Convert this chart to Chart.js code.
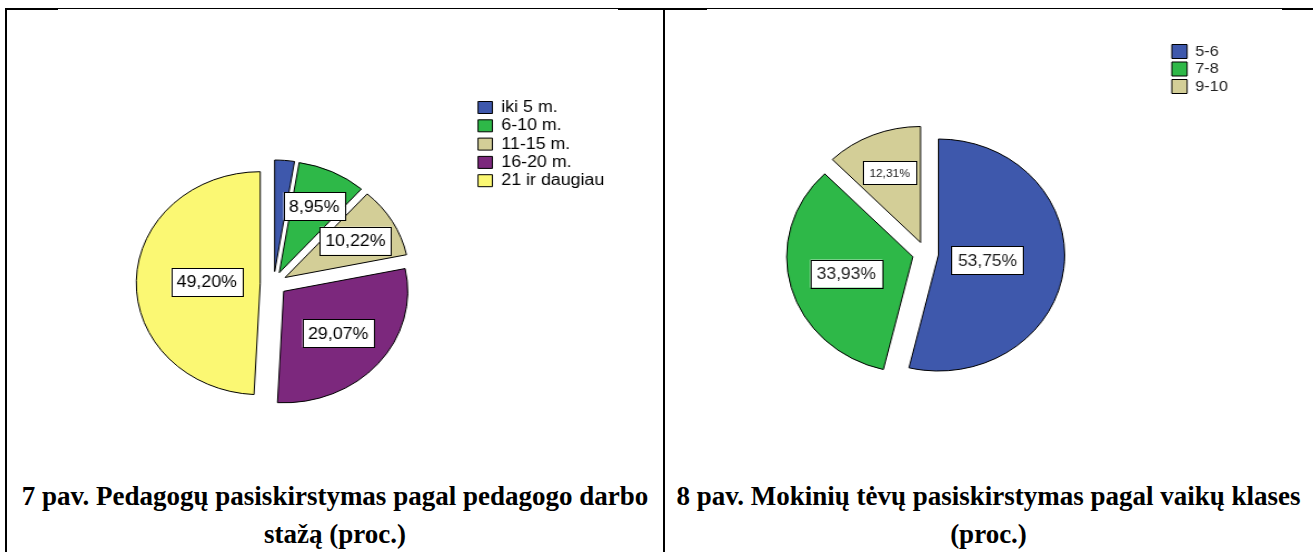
<!DOCTYPE html>
<html>
<head>
<meta charset="utf-8">
<script src="https://cdn.jsdelivr.net/npm/chart.js@4.4.1/dist/chart.umd.min.js"></script>
<style>
    html, body { margin: 0; padding: 0; background: #fff; }
    body { width: 1313px; height: 552px; position: relative; overflow: hidden; }
    .line { position: absolute; background: #000; }
    .chart-box { position: absolute; transform-origin: 0 0; }
    .caption {
        position: absolute;
        font-family: "Liberation Serif", "Times New Roman", serif;
        font-weight: bold;
        font-size: 27px;
        line-height: 38px;
        text-align: center;
        color: #000;
        white-space: nowrap;
    }
</style>
</head>
<body>

<!-- table lines -->
<div class="line" style="left:5px; top:8px; width:1308px; height:1px;"></div>
<div class="line" style="left:5px; top:8px; width:53px; height:2px;"></div>
<div class="line" style="left:618px; top:8px; width:89px; height:2px;"></div>
<div class="line" style="left:1282px; top:8px; width:31px; height:2px;"></div>
<div class="line" style="left:5px; top:8px; width:2px; height:544px;"></div>
<div class="line" style="left:663px; top:8px; width:2px; height:544px;"></div>

<div class="chart-box" id="staz-box"><canvas id="staz-chart"></canvas></div>
<div class="chart-box" id="klases-box"><canvas id="klases-chart"></canvas></div>

<div class="caption" style="left:7px; top:477px; width:656px;">7 pav. Pedagogų pasiskirstymas pagal pedagogo darbo<br>stažą (proc.)</div>
<div class="caption" style="left:665px; top:477px; width:647px;">8 pav. Mokinių tėvų pasiskirstymas pagal vaikų klases<br>(proc.)</div>

<script>
// =========================================================
// DATA
// =========================================================

    const stazLabels = ["iki 5 m.", "6-10 m.", "11-15 m.", "16-20 m.", "21 ir daugiau"];
    const stazValues = [2.56, 8.95, 10.22, 29.07, 49.20];
    const stazColors = ["#3E58AC", "#2EB848", "#D3CE97", "#7C287D", "#FBF873"];

    const klasesLabels = ["5-6", "7-8", "9-10"];
    const klasesValues = [53.75, 33.93, 12.31];
    const klasesColors = ["#3E58AC", "#2EB848", "#D3CE97"];

// =========================================================
// LAYOUT (page pixels)
// =========================================================

    const FONT = 'Arial, "Liberation Sans", sans-serif';

    const stazGeometry = {
        left: 7, top: 10, width: 655, height: 450, stretch: 1.112,
        cx: 273.6, cy: 283.5, radius: 111.5,
        legendX: 478, legendY: 99.5
    };

    const klasesGeometry = {
        left: 666, top: 10, width: 647, height: 450, stretch: 1.086,
        cx: 925, cy: 253.6, radius: 116,
        legendX: 1171, legendY: 44
    };

// =========================================================
// PLUGINS
// =========================================================

    // --- Pulls every slice out along its middle angle --- //

    const explodePlugin = {
        id: "explode",
        beforeDatasetDraw(chart, args, options) {
            const ctx = chart.ctx;
            args.meta.data.forEach(function (arc) {
                const mid = (arc.startAngle + arc.endAngle) / 2;
                ctx.save();
                ctx.translate(Math.cos(mid) * options.distance, Math.sin(mid) * options.distance);
                arc.draw(ctx, chart.chartArea);
                ctx.restore();
            });
            return false;
        }
    };

    // --- Moves the legend to a fixed spot --- //

    const legendPlacePlugin = {
        id: "legendPlace",
        afterLayout(chart, args, options) {
            const legend = chart.legend;
            const padding = chart.options.plugins.legend.labels.padding;
            legend.left = options.x - padding;
            legend.top = options.y - padding;
            legend.right = legend.left + legend.width;
            legend.bottom = legend.top + 300;
        }
    };

    // --- White value boxes at the slice centroid --- //

    const valueBoxPlugin = {
        id: "valueBoxes",
        afterDatasetsDraw(chart, args, options) {
            const ctx = chart.ctx;
            const values = chart.data.datasets[0].data;
            const distance = chart.options.plugins.explode.distance;

            chart.getDatasetMeta(0).data.forEach(function (arc, index) {
                if (values[index] < options.minValue) {
                    return;
                }
                const half = (arc.endAngle - arc.startAngle) / 2;
                const mid = arc.startAngle + half;
                const d = distance + 2 * arc.outerRadius * Math.sin(half) / (3 * half);
                const x = arc.x + Math.cos(mid) * d;
                const y = arc.y + Math.sin(mid) * d;

                const size = options.small.includes(index) ? options.smallSize : options.size;
                const text = values[index].toFixed(2).replace(".", ",") + "%";

                ctx.save();
                ctx.font = size + "px " + FONT;
                const w = ctx.measureText(text).width + 2 * options.padX;
                const h = size + 2 * options.padY;
                ctx.fillStyle = "#fff";
                ctx.fillRect(x - w / 2, y - h / 2, w, h);
                ctx.strokeStyle = "#000";
                ctx.lineWidth = 1;
                ctx.strokeRect(Math.round(x - w / 2) + 0.5, Math.round(y - h / 2) + 0.5, Math.round(w), Math.round(h));
                ctx.fillStyle = options.color;
                ctx.textAlign = "center";
                ctx.textBaseline = "middle";
                ctx.fillText(text, x, y + 1);
                ctx.restore();
            });
        }
    };

// =========================================================
// CHARTS
// =========================================================

    Chart.defaults.font.family = FONT;

    function createPie(canvasId, boxId, labels, values, colors, geometry, legendLabels, valueBoxes) {
        const box = document.getElementById(boxId);
        const w = geometry.width / geometry.stretch;
        const h = geometry.height;

        box.style.left = geometry.left + "px";
        box.style.top = geometry.top + "px";
        box.style.width = w + "px";
        box.style.height = h + "px";
        box.style.transform = "scaleX(" + geometry.stretch + ")";

        // centre of the pie in canvas units -> padding around the chart area
        const cx = (geometry.cx - geometry.left) / geometry.stretch;
        const cy = geometry.cy - geometry.top;

        const padding = {
            left: Math.max(0, 2 * cx - w),
            right: Math.max(0, w - 2 * cx),
            top: Math.max(0, 2 * cy - h),
            bottom: Math.max(0, h - 2 * cy)
        };

        return new Chart(document.getElementById(canvasId), {
            type: "pie",
            data: {
                labels: labels,
                datasets: [
                    {
                        data: values,
                        backgroundColor: colors,
                        borderColor: "#000",
                        borderWidth: 1,
                        radius: geometry.radius
                    }
                ]
            },
            options: {
                responsive: true,
                maintainAspectRatio: false,
                animation: false,
                events: [],
                layout: { padding: padding },
                plugins: {
                    tooltip: { enabled: false },
                    legend: {
                        position: "chartArea",
                        align: "start",
                        labels: legendLabels
                    },
                    legendPlace: {
                        x: (geometry.legendX - geometry.left) / geometry.stretch,
                        y: geometry.legendY - geometry.top
                    },
                    explode: { distance: 12 },
                    valueBoxes: valueBoxes
                }
            },
            plugins: [explodePlugin, legendPlacePlugin, valueBoxPlugin]
        });
    }

    createPie("staz-chart", "staz-box", stazLabels, stazValues, stazColors, stazGeometry,
        { boxWidth: 13, boxHeight: 12, padding: 2.3, color: "#000", font: { size: 16 } },
        { minValue: 3, size: 16, smallSize: 11, small: [], padX: 5, padY: 6, color: "#000" });

    createPie("klases-chart", "klases-box", klasesLabels, klasesValues, klasesColors, klasesGeometry,
        { boxWidth: 14, boxHeight: 14, padding: 2.5, color: "#222", font: { size: 15 } },
        { minValue: 3, size: 16, smallSize: 11, small: [2], padX: 6, padY: 6, color: "#222" });
</script>
</body>
</html>
